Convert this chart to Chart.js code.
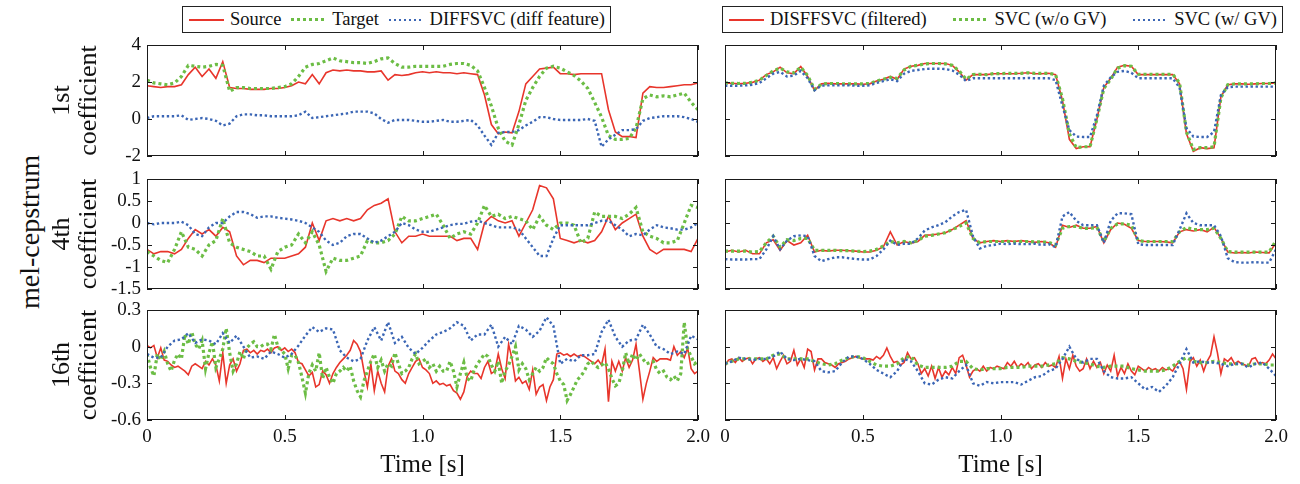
<!DOCTYPE html>
<html>
<head>
<meta charset="utf-8">
<title>mel-cepstrum coefficients</title>
<script src="https://cdn.jsdelivr.net/npm/chart.js@4.4.1/dist/chart.umd.min.js"></script>
<style>
  body { margin: 0; background: #fff; }
  #page { position: relative; width: 1300px; height: 484px; overflow: hidden; font-family: 'Liberation Serif', 'Times New Roman', serif; color: #111; }
  canvas { position: absolute; }
  .legend { position: absolute; top: 6px; height: 27px; border: 1px solid #222; box-sizing: border-box; display: flex; align-items: center; justify-content: space-between; padding: 0 5px 0 6px; font-size: 18.5px; white-space: nowrap; }
  .legend .item { display: flex; align-items: center; }
  .legend .swatch { display: inline-block; width: 35px; margin-right: 6px; }
  .s-red { height: 2px; background: #e8352b; }
  .s-green { height: 3px; background: repeating-linear-gradient(90deg, #6cbd45 0 3px, transparent 3px 6px); }
  .s-blue { height: 2px; background: repeating-linear-gradient(90deg, #3b66b5 0 2px, transparent 2px 5px); }
  #ylabel { position: absolute; left: 30px; top: 232px; transform: translate(-50%, -50%) rotate(-90deg); font-size: 28px; white-space: nowrap; }
</style>
</head>
<body>
<div id="page">
  <div class="legend" style="left:182px;width:429px">
    <span class="item"><span class="swatch s-red"></span>Source</span>
    <span class="item"><span class="swatch s-green"></span>Target</span>
    <span class="item"><span class="swatch s-blue"></span>DIFFSVC (diff feature)</span>
  </div>
  <div class="legend" style="left:722px;width:561px">
    <span class="item"><span class="swatch s-red"></span>DISFFSVC (filtered)</span>
    <span class="item"><span class="swatch s-green"></span>SVC (w/o GV)</span>
    <span class="item"><span class="swatch s-blue"></span>SVC (w/ GV)</span>
  </div>
  <div id="ylabel">mel-cepstrum</div>

  <canvas id="l1" width="670" height="135" style="left:40px;top:33px"></canvas>
  <canvas id="l2" width="670" height="134" style="left:40px;top:167px"></canvas>
  <canvas id="l3" width="670" height="186" style="left:40px;top:298px"></canvas>
  <canvas id="r1" width="575" height="135" style="left:713px;top:33px"></canvas>
  <canvas id="r2" width="575" height="134" style="left:713px;top:167px"></canvas>
  <canvas id="r3" width="575" height="186" style="left:713px;top:298px"></canvas>
</div>
<script>
'use strict';

// time axis: 25 ms grid, and a 12.5 ms grid for the noisy 16th coefficient traces
let times = [];
for (let i = 0; i <= 80; i++) {
  times.push(i * 0.025);
}
let timesFine = [];
for (let i = 0; i <= 160; i++) {
  timesFine.push(i * 0.0125);
}

let xTickLabels = ['0', '0.5', '1.0', '1.5', '2.0'];

// ---- left column: Source / Target / DIFFSVC (diff feature) ----
let src1 = [1.8,1.75,1.7,1.75,1.75,1.85,2.4,2.8,2.3,2.7,
  2.2,3.1,1.7,1.65,1.65,1.6,1.6,1.6,1.65,1.65,
  1.7,1.8,2.0,1.9,2.4,1.9,2.5,2.65,2.6,2.65,
  2.6,2.6,2.55,2.55,2.6,2.1,2.4,2.35,2.4,2.5,
  2.55,2.5,2.55,2.5,2.5,2.45,2.5,2.45,2.4,1.3,
  -0.3,-0.8,-0.7,-0.75,0.4,1.9,2.3,2.7,2.75,2.8,
  2.45,2.45,2.4,2.45,2.45,2.45,2.45,0.5,-0.7,-0.95,
  -0.95,-1.0,1.4,1.75,1.7,1.7,1.75,1.8,1.85,1.85,
  1.95];
let tgt1 = [2.1,1.95,1.9,1.85,1.95,2.3,2.9,2.85,2.8,2.85,
  2.95,2.9,1.5,1.7,1.7,1.65,1.65,1.65,1.65,1.7,
  1.75,1.9,2.3,2.8,2.95,3.0,3.15,3.3,3.15,3.1,
  3.05,3.05,3.0,3.1,3.25,3.3,3.0,2.8,2.8,2.85,
  2.85,2.85,2.85,2.85,2.95,3.0,3.0,2.9,2.6,1.7,
  0.7,-0.5,-1.2,-1.4,-0.3,1.0,1.7,2.3,2.75,2.85,
  2.75,2.55,2.35,2.05,1.65,0.9,0.1,-0.9,-1.1,-1.1,
  -1.05,-0.5,1.1,1.3,1.2,1.25,1.2,1.3,1.4,0.9,
  0.5];
let diff1 = [0.05,0.15,0.15,0.15,0.15,0.2,-0.05,0.0,0.05,0.0,
  -0.1,-0.35,-0.25,0.15,0.25,0.25,0.2,0.2,0.15,0.15,
  0.15,0.15,0.2,0.4,0.05,0.1,0.15,0.2,0.25,0.3,
  0.4,0.4,0.4,0.3,0.0,-0.2,-0.05,-0.05,-0.05,-0.1,
  -0.15,-0.15,-0.1,-0.05,-0.15,-0.15,-0.1,-0.05,-0.35,-0.9,
  -1.4,-0.75,-0.7,-0.7,-0.6,-0.35,-0.15,0.1,0.1,0.0,
  -0.05,-0.05,-0.05,-0.05,0.0,-0.1,-1.5,-1.1,-0.85,-0.6,
  -0.6,-0.55,-0.1,0.05,0.1,0.15,0.15,0.15,0.1,0.0,
  -0.15];

let src4 = [-0.6,-0.7,-0.65,-0.65,-0.7,-0.6,-0.35,-0.15,-0.25,-0.15,
  -0.3,-0.1,-0.2,-0.75,-0.95,-0.85,-0.85,-0.9,-0.8,-0.8,
  -0.8,-0.75,-0.7,-0.55,0.0,-0.4,0.05,0.1,0.05,0.1,
  0.05,0.1,0.3,0.4,0.45,0.55,-0.2,-0.45,-0.3,-0.3,
  -0.25,-0.3,-0.3,-0.3,-0.3,-0.4,-0.35,-0.35,-0.6,0.0,
  0.15,0.05,0.0,0.05,-0.3,0.0,0.3,0.85,0.8,0.55,
  -0.35,-0.4,-0.45,-0.4,-0.45,-0.4,-0.2,0.15,-0.15,0.0,
  0.1,0.2,-0.3,-0.6,-0.7,-0.6,-0.6,-0.6,-0.6,-0.65,
  -0.35];
let tgt4 = [-0.65,-0.75,-0.85,-0.9,-0.6,-0.2,-0.55,-0.6,-0.75,-0.5,
  -0.4,0.1,-0.45,-0.55,-0.6,-0.65,-0.75,-0.75,-1.05,-0.65,
  -0.55,-0.5,-0.25,-0.45,-0.2,-0.5,-1.1,-0.8,-0.85,-0.85,
  -0.8,-0.75,-0.4,-0.45,-0.45,-0.4,-0.25,0.15,0.05,0.05,
  0.1,0.15,0.2,-0.05,-0.35,-0.25,-0.2,-0.25,0.0,0.4,
  0.15,0.2,0.1,0.15,0.1,0.05,-0.15,0.15,-0.05,-0.15,
  0.0,0.0,-0.05,-0.45,-0.35,0.25,0.15,0.15,0.15,0.1,
  0.2,0.35,-0.2,-0.3,-0.35,-0.45,-0.45,-0.4,0.0,0.4,
  0.35];
let diff4 = [0.0,-0.03,0.0,0.0,0.0,0.03,-0.05,-0.25,-0.3,-0.1,
  0.0,0.0,0.15,0.25,0.25,0.2,0.12,0.15,0.15,0.12,
  0.1,0.08,0.05,0.0,-0.1,-0.2,-0.4,-0.5,-0.45,-0.3,
  -0.25,-0.25,-0.35,-0.45,-0.4,-0.3,-0.2,0.0,-0.05,-0.15,
  -0.2,-0.2,-0.15,-0.1,-0.05,-0.02,-0.02,0.03,0.05,0.0,
  -0.05,-0.1,-0.1,-0.1,-0.15,-0.35,-0.55,-0.75,-0.75,-0.35,
  -0.05,-0.05,-0.05,-0.05,-0.05,0.0,0.05,0.05,-0.05,-0.15,
  -0.3,-0.25,-0.28,-0.15,-0.05,-0.1,-0.12,-0.15,-0.15,-0.1,
  0.0];

// 16th coefficient, 12.5 ms grid (161 values)
let src16 = [0.01,-0.01,0.01,-0.09,-0.01,-0.11,-0.12,-0.15,-0.17,-0.16,
  -0.18,-0.2,-0.23,-0.16,-0.14,-0.16,-0.18,-0.12,-0.15,-0.1,
  -0.15,-0.28,-0.05,-0.3,-0.15,-0.1,-0.2,-0.14,-0.03,-0.02,
  -0.05,-0.03,-0.06,-0.03,-0.04,-0.02,-0.05,-0.01,0.0,-0.03,
  -0.01,-0.04,-0.02,-0.05,-0.13,-0.14,-0.19,-0.24,-0.21,-0.33,
  -0.31,-0.2,-0.23,-0.3,-0.22,-0.17,-0.13,-0.1,-0.07,-0.03,
  0.05,0.02,-0.04,-0.2,-0.33,-0.14,-0.36,-0.2,-0.3,-0.37,
  -0.16,-0.1,-0.2,-0.22,-0.27,-0.3,-0.22,-0.17,-0.12,-0.1,
  -0.17,-0.19,-0.22,-0.3,-0.28,-0.31,-0.3,-0.32,-0.31,-0.36,
  -0.38,-0.43,-0.37,-0.24,-0.2,-0.22,-0.22,-0.26,-0.17,-0.12,
  -0.22,-0.2,-0.06,-0.18,-0.26,0.02,-0.1,-0.28,-0.25,-0.3,
  -0.28,-0.35,-0.19,-0.39,-0.33,-0.31,-0.44,-0.33,-0.27,-0.06,
  -0.05,-0.07,-0.06,-0.08,-0.06,-0.08,-0.07,-0.08,-0.1,-0.12,
  -0.14,-0.11,-0.15,-0.02,-0.45,-0.12,-0.2,-0.12,-0.2,-0.09,
  -0.17,-0.11,0.02,-0.2,-0.43,-0.3,-0.2,-0.09,-0.12,-0.1,
  -0.1,-0.1,-0.11,0.0,-0.07,-0.04,-0.09,-0.01,-0.18,-0.22,
  -0.2];
let tgt16 = [-0.06,-0.17,-0.24,-0.06,-0.11,-0.04,-0.14,-0.2,-0.11,-0.06,
  -0.1,0.1,0.02,0.12,0.02,-0.02,0.05,-0.18,-0.05,0.04,
  -0.17,-0.1,-0.02,0.15,-0.05,-0.2,-0.14,-0.04,-0.1,-0.01,
  0.02,0.04,0.0,0.0,0.02,0.02,-0.02,0.1,0.0,-0.03,
  -0.06,-0.18,-0.07,-0.07,-0.13,-0.25,-0.38,-0.22,-0.15,-0.2,
  -0.05,-0.26,-0.17,-0.25,-0.3,-0.22,-0.2,-0.17,-0.2,-0.16,
  -0.28,-0.36,-0.41,-0.28,-0.2,-0.12,-0.06,-0.17,-0.11,-0.2,
  -0.14,-0.16,-0.05,-0.14,-0.22,-0.2,-0.17,-0.1,-0.06,-0.14,
  -0.12,-0.1,-0.17,-0.14,-0.2,-0.16,-0.2,-0.2,-0.12,-0.2,
  -0.33,-0.22,-0.13,-0.26,-0.28,-0.19,-0.14,-0.1,-0.06,-0.08,
  -0.15,-0.2,-0.12,-0.3,-0.2,-0.15,-0.08,0.0,-0.19,-0.14,
  -0.18,-0.27,-0.22,-0.17,-0.2,-0.17,-0.09,-0.12,-0.14,-0.22,
  -0.28,-0.31,-0.44,-0.39,-0.33,-0.27,-0.24,-0.2,-0.14,-0.12,
  -0.15,-0.17,-0.15,-0.13,-0.18,-0.26,-0.32,-0.3,-0.2,-0.05,
  -0.14,-0.06,-0.11,-0.06,-0.1,-0.14,-0.13,-0.12,-0.19,-0.22,
  -0.2,-0.25,-0.27,-0.24,-0.28,-0.22,0.2,-0.02,-0.08,-0.14,
  -0.12];
let diff16 = [-0.06,-0.09,-0.09,0.0,0.05,0.06,0.11,0.03,0.06,0.05,
  0.02,0.11,0.03,0.09,0.0,-0.09,-0.08,-0.1,-0.04,-0.06,
  -0.09,-0.06,0.01,0.09,0.16,0.12,0.15,0.14,-0.03,-0.09,
  -0.12,-0.1,0.05,0.16,0.05,0.2,0.03,0.08,-0.01,-0.06,
  -0.01,0.05,0.1,0.12,0.15,0.2,0.17,0.05,0.1,0.1,
  0.18,0.0,0.08,0.02,0.17,0.14,0.08,0.13,0.24,0.17,
  -0.14,-0.1,-0.12,-0.07,-0.07,-0.06,0.12,0.22,0.08,0.0,
  0.05,0.06,0.18,0.1,0.0,-0.02,-0.06,-0.04,-0.06,0.09,
  0.06];

// ---- right column: DISFFSVC (filtered) / SVC (w/o GV) / SVC (w/ GV) ----
let filt1 = [1.93,1.93,1.9,1.93,1.98,2.1,2.4,2.55,2.8,2.5,
  2.45,2.84,2.3,1.55,1.9,1.93,1.9,1.9,1.9,1.9,
  1.88,1.9,2.05,2.15,2.3,2.15,2.7,2.85,2.9,3.0,
  3.0,3.0,3.0,2.9,2.55,2.1,2.4,2.4,2.4,2.45,
  2.45,2.45,2.45,2.47,2.5,2.45,2.45,2.47,2.4,1.0,
  -1.1,-1.6,-1.5,-1.5,0.0,1.7,2.2,2.8,2.9,2.85,
  2.4,2.4,2.4,2.4,2.4,2.4,1.9,-0.8,-1.75,-1.55,
  -1.6,-1.55,1.2,1.85,1.9,1.9,1.88,1.9,1.92,1.92,
  1.95];
let noGv1 = [1.95,1.93,1.92,1.93,1.98,2.1,2.35,2.6,2.75,2.55,
  2.5,2.8,2.35,1.6,1.88,1.92,1.92,1.9,1.9,1.9,
  1.9,1.92,2.05,2.15,2.25,2.2,2.65,2.85,2.9,2.98,
  3.0,3.0,2.98,2.9,2.6,2.15,2.4,2.42,2.4,2.45,
  2.45,2.47,2.47,2.47,2.5,2.47,2.47,2.47,2.4,1.1,
  -0.8,-1.55,-1.5,-1.5,0.0,1.65,2.15,2.75,2.88,2.85,
  2.42,2.42,2.42,2.42,2.42,2.42,1.95,-0.7,-1.65,-1.55,
  -1.55,-1.5,1.15,1.85,1.9,1.9,1.9,1.9,1.92,1.92,
  1.95];
let gv1 = [1.8,1.8,1.8,1.82,1.85,1.95,2.2,2.45,2.55,2.3,
  2.35,2.6,2.2,1.55,1.8,1.82,1.82,1.82,1.82,1.8,
  1.8,1.82,1.95,2.05,2.15,2.05,2.45,2.6,2.65,2.7,
  2.72,2.72,2.7,2.62,2.4,2.05,2.2,2.2,2.2,2.2,
  2.2,2.2,2.2,2.2,2.22,2.2,2.2,2.2,2.1,0.7,
  -0.6,-0.95,-0.97,-0.97,0.2,1.8,2.25,2.55,2.6,2.5,
  2.2,2.2,2.2,2.2,2.2,2.2,1.7,-0.5,-0.95,-0.97,
  -0.97,-0.7,1.3,1.72,1.75,1.75,1.75,1.75,1.75,1.75,
  1.75];

let filt4 = [-0.66,-0.62,-0.66,-0.62,-0.7,-0.7,-0.45,-0.38,-0.62,-0.4,
  -0.5,-0.45,-0.28,-0.66,-0.62,-0.64,-0.62,-0.62,-0.63,-0.64,
  -0.66,-0.66,-0.62,-0.54,-0.2,-0.5,-0.42,-0.46,-0.42,-0.28,
  -0.27,-0.25,-0.22,-0.15,-0.05,0.05,-0.35,-0.45,-0.42,-0.4,
  -0.42,-0.4,-0.42,-0.4,-0.42,-0.44,-0.42,-0.45,-0.55,-0.05,
  -0.1,-0.05,-0.12,-0.12,-0.08,-0.45,-0.15,0.0,-0.03,-0.12,
  -0.4,-0.42,-0.42,-0.42,-0.43,-0.45,-0.2,-0.15,-0.18,-0.15,
  -0.2,-0.1,-0.35,-0.66,-0.68,-0.67,-0.68,-0.66,-0.67,-0.68,
  -0.45];
let noGv4 = [-0.64,-0.64,-0.64,-0.64,-0.66,-0.65,-0.45,-0.3,-0.55,-0.38,
  -0.4,-0.35,-0.35,-0.62,-0.62,-0.62,-0.62,-0.63,-0.63,-0.64,
  -0.65,-0.64,-0.6,-0.52,-0.42,-0.45,-0.42,-0.45,-0.4,-0.3,
  -0.28,-0.25,-0.22,-0.15,-0.08,0.0,-0.35,-0.45,-0.42,-0.42,
  -0.42,-0.42,-0.43,-0.42,-0.42,-0.43,-0.43,-0.44,-0.5,-0.12,
  -0.08,-0.08,-0.12,-0.12,-0.1,-0.42,-0.12,-0.02,-0.02,-0.05,
  -0.4,-0.42,-0.42,-0.42,-0.42,-0.42,-0.2,-0.1,-0.15,-0.15,
  -0.15,-0.12,-0.35,-0.65,-0.66,-0.66,-0.66,-0.66,-0.66,-0.66,
  -0.4];
let gv4 = [-0.82,-0.83,-0.83,-0.83,-0.82,-0.82,-0.6,-0.3,-0.6,-0.4,
  -0.3,-0.28,-0.3,-0.75,-0.87,-0.82,-0.78,-0.78,-0.8,-0.82,
  -0.83,-0.83,-0.75,-0.6,-0.4,-0.5,-0.47,-0.47,-0.35,-0.17,
  -0.1,-0.05,0.02,0.15,0.25,0.3,-0.3,-0.58,-0.52,-0.5,
  -0.47,-0.48,-0.47,-0.48,-0.48,-0.47,-0.5,-0.48,-0.55,0.15,
  0.25,0.05,-0.05,-0.05,-0.05,-0.45,0.05,0.22,0.22,0.2,
  -0.48,-0.5,-0.5,-0.5,-0.5,-0.5,-0.15,0.22,0.0,-0.05,
  -0.05,-0.05,-0.3,-0.8,-0.89,-0.9,-0.9,-0.89,-0.9,-0.9,
  -0.6];

// 12.5 ms grid (161 values)
let filt16 = [-0.16,-0.11,-0.1,-0.13,-0.09,-0.12,-0.1,-0.09,-0.14,-0.1,
  -0.09,-0.12,-0.1,-0.14,-0.09,-0.18,-0.12,-0.07,-0.14,-0.12,
  -0.03,-0.15,-0.1,-0.17,-0.02,-0.04,-0.19,-0.1,-0.1,-0.13,
  -0.14,-0.15,-0.17,-0.14,-0.13,-0.12,-0.1,-0.09,-0.08,-0.09,
  -0.1,-0.1,-0.1,-0.11,-0.08,-0.1,-0.07,-0.01,-0.08,-0.13,
  -0.12,-0.15,-0.13,-0.05,-0.1,-0.09,-0.14,-0.22,-0.18,-0.24,
  -0.16,-0.26,-0.17,-0.25,-0.2,-0.23,-0.17,-0.22,-0.09,-0.07,
  -0.15,-0.25,-0.2,-0.18,-0.2,-0.16,-0.2,-0.17,-0.18,-0.16,
  -0.17,-0.18,-0.13,-0.16,-0.12,-0.17,-0.14,-0.16,-0.13,-0.18,
  -0.15,-0.14,-0.17,-0.13,-0.16,-0.15,-0.17,-0.08,-0.26,-0.1,
  -0.18,-0.07,-0.16,-0.2,-0.18,-0.1,-0.18,-0.12,-0.17,-0.13,
  -0.22,-0.15,-0.2,-0.07,-0.24,-0.17,-0.22,-0.14,-0.2,-0.23,
  -0.16,-0.18,-0.2,-0.17,-0.19,-0.18,-0.2,-0.17,-0.19,-0.18,
  -0.2,-0.15,-0.12,-0.18,-0.35,-0.12,-0.09,-0.16,-0.11,-0.2,
  -0.12,-0.07,0.08,-0.05,-0.22,-0.1,-0.12,-0.09,-0.14,-0.12,
  -0.14,-0.15,-0.16,-0.1,-0.09,-0.14,-0.13,-0.14,-0.11,-0.06,
  -0.1];
let noGv16 = [-0.14,-0.12,-0.1,-0.1,-0.1,-0.1,-0.1,-0.07,-0.06,-0.1,
  -0.1,-0.1,-0.1,-0.12,-0.14,-0.15,-0.14,-0.11,-0.09,-0.08,
  -0.09,-0.12,-0.15,-0.16,-0.16,-0.14,-0.09,-0.08,-0.15,-0.17,
  -0.17,-0.17,-0.17,-0.16,-0.12,-0.12,-0.18,-0.19,-0.18,-0.18,
  -0.18,-0.17,-0.17,-0.17,-0.16,-0.16,-0.16,-0.15,-0.14,-0.09,
  -0.1,-0.12,-0.13,-0.14,-0.16,-0.17,-0.16,-0.16,-0.16,-0.18,
  -0.19,-0.2,-0.2,-0.2,-0.19,-0.16,-0.12,-0.09,-0.12,-0.13,
  -0.13,-0.12,-0.13,-0.14,-0.14,-0.14,-0.15,-0.14,-0.14,-0.15,
  -0.15];
let gv16 = [-0.14,-0.12,-0.09,-0.1,-0.11,-0.1,-0.1,-0.08,-0.04,-0.1,
  -0.11,-0.1,-0.11,-0.12,-0.2,-0.21,-0.2,-0.13,-0.08,-0.08,
  -0.1,-0.14,-0.19,-0.22,-0.25,-0.2,-0.1,-0.12,-0.2,-0.3,
  -0.31,-0.27,-0.25,-0.26,-0.2,-0.15,-0.3,-0.32,-0.29,-0.3,
  -0.29,-0.29,-0.29,-0.31,-0.28,-0.25,-0.24,-0.2,-0.18,-0.1,
  0.0,-0.1,-0.13,-0.1,-0.1,-0.2,-0.25,-0.26,-0.26,-0.25,
  -0.3,-0.35,-0.33,-0.37,-0.32,-0.25,-0.14,-0.02,-0.13,-0.12,
  -0.13,-0.13,-0.14,-0.16,-0.14,-0.14,-0.17,-0.14,-0.13,-0.18,
  -0.24];

const SERIF = "'Liberation Serif', 'Times New Roman', serif";
const INK = '#111';
const RED = '#e8352b';
const GREEN = '#6cbd45';
const BLUE = '#3b66b5';

function series(label, values, kind) {
  let xs = values.length > times.length ? timesFine : times;
  let ds = {
    label: label,
    data: values.map((v, i) => ({ x: xs[i], y: v })),
    pointRadius: 0,
    tension: 0,
    fill: false
  };
  if (kind === 'red') {
    ds.borderColor = RED; ds.borderWidth = 1.6; ds.order = 3;
  } else if (kind === 'green') {
    ds.borderColor = GREEN; ds.borderWidth = 3.2; ds.borderDash = [3, 3]; ds.order = 2;
  } else {
    ds.borderColor = BLUE; ds.borderWidth = 2.4; ds.borderDash = [2.4, 2.6]; ds.order = 1;
  }
  return ds;
}

function fmtTick(v) {
  if (Math.abs(v) < 1e-9) return '0';
  return String(+v.toFixed(2));
}

// matlab style box with inward ticks on all four sides
let boxTicks = {
  id: 'boxTicks',
  afterDatasetsDraw(chart) {
    let ctx = chart.ctx;
    let a = chart.chartArea;
    let xs = chart.scales.x;
    let ys = chart.scales.y;
    let len = 5;
    ctx.save();
    ctx.strokeStyle = '#1a1a1a';
    ctx.lineWidth = 1;
    ctx.strokeRect(a.left + 0.5, a.top + 0.5, a.right - a.left - 1, a.bottom - a.top - 1);
    ctx.beginPath();
    xs.ticks.forEach(t => {
      let px = Math.round(xs.getPixelForValue(t.value)) + 0.5;
      ctx.moveTo(px, a.top); ctx.lineTo(px, a.top + len);
      ctx.moveTo(px, a.bottom); ctx.lineTo(px, a.bottom - len);
    });
    ys.ticks.forEach(t => {
      let py = Math.round(ys.getPixelForValue(t.value)) + 0.5;
      ctx.moveTo(a.left, py); ctx.lineTo(a.left + len, py);
      ctx.moveTo(a.right, py); ctx.lineTo(a.right - len, py);
    });
    ctx.stroke();
    ctx.restore();
  }
};

function zeroPad(s) {
  s.paddingTop = 0; s.paddingBottom = 0; s.paddingLeft = 0; s.paddingRight = 0;
}

function makePanel(id, sets, opt) {
  let tickFont = { family: SERIF, size: 19 };
  let titleFont = { family: SERIF, size: 25, lineHeight: 1.08 };
  let yTitleFont = { family: SERIF, size: 26, lineHeight: 1.04 };
  new Chart(document.getElementById(id), {
    type: 'line',
    data: { datasets: sets },
    options: {
      responsive: false,
      animation: false,
      devicePixelRatio: 1,
      layout: { padding: { top: 12, right: 12, left: 0, bottom: 0 } },
      plugins: { legend: { display: false }, tooltip: { enabled: false } },
      scales: {
        x: {
          type: 'linear', min: 0, max: 2,
          grid: { display: false, drawTicks: false },
          border: { display: false },
          ticks: {
            display: opt.bottom, stepSize: 0.5, padding: 6, color: INK, font: tickFont,
            maxRotation: 0, autoSkip: false,
            callback: (v, i) => xTickLabels[i]
          },
          title: { display: opt.bottom, text: 'Time [s]', color: INK, font: titleFont, padding: { top: 0, bottom: 5 } },
          afterFit: s => { s.height = opt.bottom ? 64 : 12; zeroPad(s); }
        },
        y: {
          min: opt.min, max: opt.max,
          grid: { display: false, drawTicks: false },
          border: { display: false },
          ticks: { display: opt.left, stepSize: opt.step, autoSkip: false, padding: 6, color: INK, font: tickFont, callback: fmtTick },
          title: { display: opt.left, text: opt.title, color: INK, font: yTitleFont, padding: { top: 9, bottom: 0 } },
          afterFit: s => { s.width = opt.left ? 107 : 12; zeroPad(s); }
        }
      }
    },
    plugins: [boxTicks]
  });
}

let row1 = { min: -2, max: 4, step: 2, title: ['1st', 'coefficient'] };
let row2 = { min: -1.5, max: 1, step: 0.5, title: ['4th', 'coefficient'] };
let row3 = { min: -0.6, max: 0.3, step: 0.3, title: ['16th', 'coefficient'] };

makePanel('l1', [series('Source', src1, 'red'), series('Target', tgt1, 'green'), series('DIFFSVC (diff feature)', diff1, 'blue')],
  Object.assign({ left: true, bottom: false }, row1));
makePanel('l2', [series('Source', src4, 'red'), series('Target', tgt4, 'green'), series('DIFFSVC (diff feature)', diff4, 'blue')],
  Object.assign({ left: true, bottom: false }, row2));
makePanel('l3', [series('Source', src16, 'red'), series('Target', tgt16, 'green'), series('DIFFSVC (diff feature)', diff16, 'blue')],
  Object.assign({ left: true, bottom: true }, row3));

makePanel('r1', [series('DISFFSVC (filtered)', filt1, 'red'), series('SVC (w/o GV)', noGv1, 'green'), series('SVC (w/ GV)', gv1, 'blue')],
  Object.assign({ left: false, bottom: false }, row1));
makePanel('r2', [series('DISFFSVC (filtered)', filt4, 'red'), series('SVC (w/o GV)', noGv4, 'green'), series('SVC (w/ GV)', gv4, 'blue')],
  Object.assign({ left: false, bottom: false }, row2));
makePanel('r3', [series('DISFFSVC (filtered)', filt16, 'red'), series('SVC (w/o GV)', noGv16, 'green'), series('SVC (w/ GV)', gv16, 'blue')],
  Object.assign({ left: false, bottom: true }, row3));
</script>
</body>
</html>
